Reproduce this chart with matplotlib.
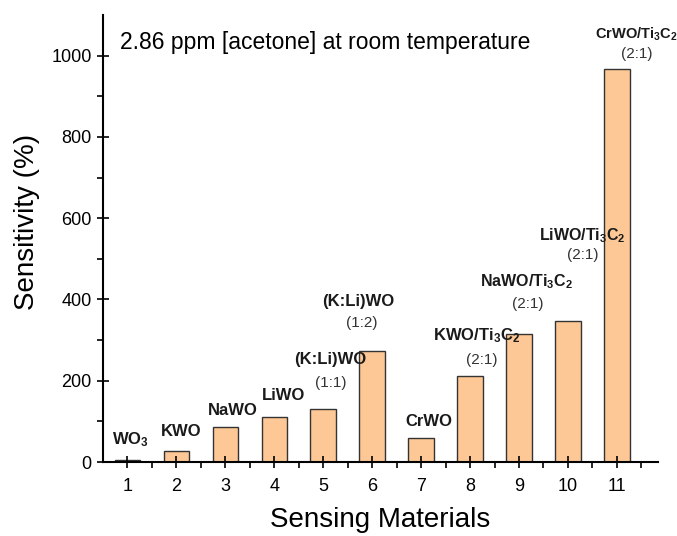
import matplotlib
matplotlib.use('Agg')
import matplotlib.pyplot as plt
import numpy as np

plt.rcParams['font.family'] = 'Liberation Sans'
plt.rcParams['mathtext.fontset'] = 'custom'
plt.rcParams['mathtext.rm'] = 'Liberation Sans'
plt.rcParams['mathtext.bf'] = 'Liberation Sans:bold'

# data
positions = [1, 2, 3, 4, 5, 6, 7, 8, 9, 10, 11]
sensitivity = [5, 27, 87, 112, 130, 272, 58, 211, 314, 346, 968]
names = [r'$\mathbf{WO_3}$', 'KWO', 'NaWO', 'LiWO', '(K:Li)WO', '(K:Li)WO', 'CrWO',
         r'$\mathbf{KWO/Ti_3C_2}$', r'$\mathbf{NaWO/Ti_3C_2}$',
         r'$\mathbf{LiWO/Ti_3C_2}$', r'$\mathbf{CrWO/Ti_3C_2}$']
ratios = ['', '', '', '', '(1:1)', '(1:2)', '', '(2:1)', '(2:1)', '(2:1)', '(2:1)']

# label placement (data coords)
name_xy = [(1.06, 54), (2.1, 74), (3.16, 126), (4.19, 163), (5.15, 252), (5.72, 395),
           (7.16, 99), (8.14, 311), (9.16, 444), (10.3, 558), (11.39, 1052)]
name_fs = [12, 12, 12, 12, 12, 12, 12, 12, 11.5, 11.5, 10.5]
ratio_xy = [None, None, None, None, (5.15, 195), (5.78, 343), None,
            (8.24, 252), (9.18, 388), (10.3, 509), (11.41, 1003)]

fig = plt.figure(figsize=(6.77, 5.36), dpi=100)
ax = fig.add_axes([0.152, 0.138, 0.820, 0.834])

ax.bar(positions, sensitivity, width=0.52, color='#FDC895', edgecolor='#333333', linewidth=1.0)

for i in range(len(names)):
    ax.text(name_xy[i][0], name_xy[i][1], names[i], ha='center', va='center',
            fontsize=name_fs[i], fontweight='bold', color='#1a1a1a')
    if ratio_xy[i] is not None:
        ax.text(ratio_xy[i][0], ratio_xy[i][1], ratios[i], ha='center', va='center',
                fontsize=11, color='#333333')

ax.text(0.03, 0.965, '2.86 ppm [acetone] at room temperature', transform=ax.transAxes,
        ha='left', va='top', fontsize=16.5)

ax.set_xlim(0.5, 11.84)
ax.set_ylim(0, 1100)
ax.set_xticks(positions)
ax.set_xticks(np.arange(1.5, 11.6, 1), minor=True)
ax.set_yticks([0, 200, 400, 600, 800, 1000])
ax.set_yticks(np.arange(100, 1100, 200), minor=True)
ax.tick_params(which='major', direction='inout', length=9, width=1.2, labelsize=13)
ax.tick_params(axis='x', which='major', pad=7)
ax.tick_params(which='minor', direction='out', length=4, width=1.2)

for s in ['top', 'right']:
    ax.spines[s].set_visible(False)
for s in ['left', 'bottom']:
    ax.spines[s].set_linewidth(1.5)

ax.set_xlabel('Sensing Materials', fontsize=20)
ax.set_ylabel('Sensitivity (%)', fontsize=20)
ax.xaxis.set_label_coords(0.5, -0.10)
ax.yaxis.set_label_coords(-0.113, 0.537)

fig.savefig('out.png', dpi=100)
